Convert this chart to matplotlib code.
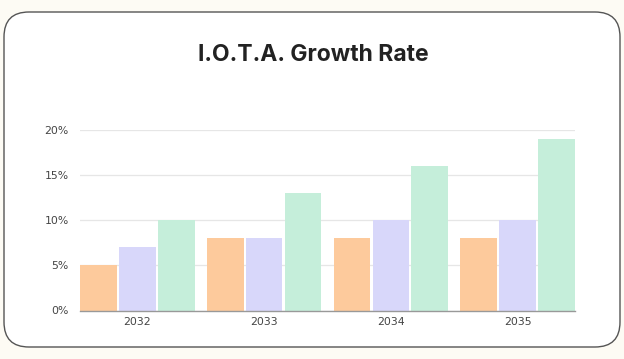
import matplotlib
matplotlib.use("Agg")
import matplotlib.pyplot as plt
from matplotlib.patches import FancyBboxPatch
import numpy as np

categories = ["2032", "2033", "2034", "2035"]
series_a = [5, 8, 8, 8]
series_b = [7, 8, 10, 10]
series_c = [10, 13, 16, 19]
colors = ["#FDCA9C", "#D8D7FA", "#C5EEDA"]
yticks = [0, 5, 10, 15, 20]
ytick_labels = ["0%", "5%", "10%", "15%", "20%"]
title = "I.O.T.A. Growth Rate"

fig = plt.figure(figsize=(6.24, 3.59), dpi=100)
fig.patch.set_facecolor("#FDFBF4")

box = FancyBboxPatch((4/624, 12/359), 616/624, (347-12)/359,
                     boxstyle="round,pad=0,rounding_size=0.04",
                     transform=fig.transFigure, facecolor="white",
                     edgecolor="#555555", linewidth=1.0,
                     mutation_aspect=624/359, zorder=-10)
fig.patches.append(box)

fig.text(0.502, 1 - 55/359, title, ha="center", va="center",
         fontsize=16.5, fontweight="bold", color="#222222", family="Inter")

ax = fig.add_axes([80/624, 1 - 310.5/359, 495/624, 180.5/359])
ax.set_facecolor("none")
x = np.arange(len(categories))
stride = 0.307
w = 0.29
for i, (vals, c) in enumerate(zip([series_a, series_b, series_c], colors)):
    ax.bar(x + (i - 1) * stride, vals, width=w, color=c, zorder=2)

ax.set_xlim(-0.452, len(categories) - 1 + 0.452)
ax.set_ylim(0, 20)
ax.set_yticks(yticks)
ax.set_yticklabels(ytick_labels)
ax.set_xticks(x)
ax.set_xticklabels(categories)
ax.grid(axis="y", color="#E6E6E6", linewidth=0.9, zorder=0)
ax.set_axisbelow(True)
for s in ["top", "right", "left"]:
    ax.spines[s].set_visible(False)
ax.spines["bottom"].set_color("#999999")
ax.spines["bottom"].set_linewidth(1.0)
ax.spines["bottom"].set_zorder(3)
ax.tick_params(axis="both", length=0, labelsize=7.8, labelcolor="#444444")
ax.tick_params(axis="y", pad=8)
ax.tick_params(axis="x", pad=5)

fig.savefig("out.png", dpi=100, facecolor=fig.get_facecolor())
